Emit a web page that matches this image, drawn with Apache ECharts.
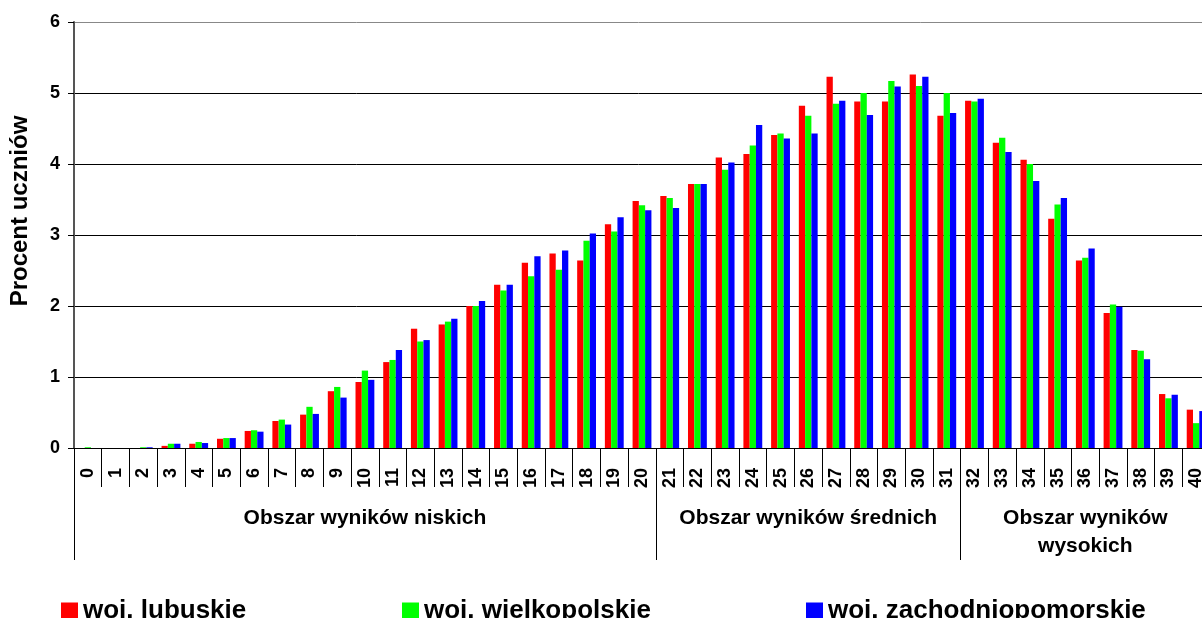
<!DOCTYPE html>
<html>
<head>
<meta charset="utf-8">
<script src="https://cdn.jsdelivr.net/npm/echarts@6/dist/echarts.min.js"></script>
<style>
  html, body { margin: 0; padding: 0; background: #fff; }
  #chart { width: 1202px; height: 618px; }
</style>
</head>
<body>
<div id="chart"></div>
<script>
// punkty (kategorie osi X)
const categories = ['0','1','2','3','4','5','6','7','8','9','10','11','12','13','14','15','16','17','18','19','20',
  '21','22','23','24','25','26','27','28','29','30','31','32','33','34','35','36','37','38','39','40'];

// procent uczniów
const lubuskie = [0, 0, 0, 0.03, 0.06, 0.13, 0.24, 0.38, 0.47, 0.80, 0.93, 1.21, 1.68, 1.74, 2.00, 2.30, 2.61, 2.74, 2.64, 3.15, 3.48,
  3.55, 3.72, 4.09, 4.14, 4.41, 4.82, 5.23, 4.88, 4.88, 5.26, 4.68, 4.89, 4.30, 4.06, 3.23, 2.64, 1.90, 1.38, 0.76, 0.54];
const wielkopolskie = [0.01, 0, 0.01, 0.06, 0.085, 0.14, 0.25, 0.40, 0.58, 0.86, 1.09, 1.24, 1.50, 1.78, 2.00, 2.22, 2.42, 2.51, 2.92, 3.05, 3.42,
  3.52, 3.72, 3.92, 4.26, 4.43, 4.68, 4.85, 5.00, 5.17, 5.10, 5.00, 4.88, 4.37, 4.00, 3.43, 2.68, 2.02, 1.37, 0.70, 0.35];
const zachodniopomorskie = [0, 0, 0.01, 0.06, 0.07, 0.14, 0.23, 0.33, 0.48, 0.71, 0.96, 1.38, 1.52, 1.82, 2.07, 2.30, 2.70, 2.78, 3.02, 3.25, 3.35,
  3.38, 3.72, 4.02, 4.55, 4.36, 4.43, 4.89, 4.69, 5.09, 5.23, 4.72, 4.92, 4.17, 3.76, 3.52, 2.81, 1.99, 1.25, 0.75, 0.52];

// obszary wyników
const groupNames = ['Obszar wyników niskich', 'Obszar wyników średnich', 'Obszar wyników\nwysokich'];
const groupStarts = [0, 21, 32];

const seriesNames = ['woj. lubuskie', 'woj. wielkopolskie', 'woj. zachodniopomorskie'];
const colors = ['#ff0000', '#00ff00', '#0000ff'];

// etykiety obszarów w środku każdego przedziału
const groupAxisData = categories.map(() => '');
groupStarts.forEach((s, i) => {
  const e = i + 1 < groupStarts.length ? groupStarts[i + 1] - 1 : categories.length - 1;
  groupAxisData[Math.round((s + e) / 2)] = groupNames[i];
});

const font = "'Liberation Sans', Arial, sans-serif";
let myChart = echarts.init(document.getElementById('chart'));

let option = {
  animation: false,
  color: colors,
  grid: { left: 74, top: 22, width: 1136, height: 426, outerBoundsMode: 'none' },
  legend: [
    { data: [seriesNames[0]], left: 56, top: 593 },
    { data: [seriesNames[1]], left: 397, top: 593 },
    { data: [seriesNames[2]], left: 801, top: 593 }
  ].map(l => Object.assign(l, {
    icon: 'rect', itemWidth: 17, itemHeight: 17, itemGap: 6,
    textStyle: { fontFamily: font, fontWeight: 'bold', fontSize: 26, color: '#000' }
  })),
  xAxis: [
    {
      type: 'category',
      data: categories,
      axisLine: { show: true, lineStyle: { color: '#000', width: 1 } },
      axisTick: { show: true, interval: 0, length: 39, lineStyle: { color: '#000', width: 1 } },
      axisLabel: {
        interval: 0, rotate: 90, margin: 20,
        fontFamily: font, fontWeight: 'bold', fontSize: 18, color: '#000'
      }
    },
    {
      type: 'category',
      position: 'bottom',
      offset: 0,
      data: groupAxisData,
      axisLine: { show: false },
      axisTick: {
        show: true,
        interval: (i) => groupStarts.includes(i),
        length: 112, lineStyle: { color: '#000', width: 1 }
      },
      axisLabel: {
        interval: 0, margin: 56, lineHeight: 28,
        fontFamily: font, fontWeight: 'bold', fontSize: 21, color: '#000'
      }
    }
  ],
  yAxis: {
    type: 'value',
    min: 0, max: 6, interval: 1,
    name: 'Procent uczniów',
    nameLocation: 'middle',
    nameGap: 42,
    nameTextStyle: { fontFamily: font, fontWeight: 'bold', fontSize: 24, color: '#000', padding: [0, 0, 0, 48] },
    axisLine: { show: true, lineStyle: { color: '#555', width: 2 } },
    axisTick: { show: true, length: 6, lineStyle: { color: '#000' } },
    axisLabel: { margin: 14, fontFamily: font, fontWeight: 'bold', fontSize: 18, color: '#000' },
    splitLine: { lineStyle: { color: ['#000', '#000', '#000', '#000', '#000', '#000', '#888'], width: 1 } }
  },
  series: [lubuskie, wielkopolskie, zachodniopomorskie].map((d, i) => ({
    name: seriesNames[i],
    type: 'bar',
    data: d,
    barGap: '0%',
    barCategoryGap: '32%'
  }))
};

myChart.setOption(option);
</script>
</body>
</html>
